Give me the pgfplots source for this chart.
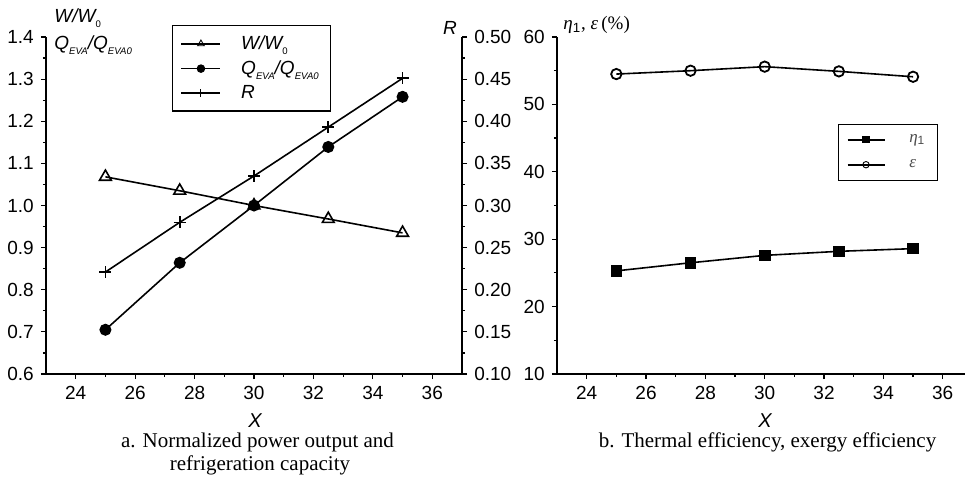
\documentclass[border=0pt]{standalone}
\usepackage{fontspec}
\setmainfont{Liberation Serif}
\setsansfont{Liberation Sans}
\usepackage{pgfplots}
\pgfplotsset{compat=1.18}
\newcommand{\sub}[1]{\raisebox{-0.5ex}{\fontsize{4.8}{5}\selectfont #1}}
\begin{document}
\begin{tikzpicture}
\path[use as bounding box] (0pt,0pt) rectangle (482.5pt,240pt);
\pgfplotsset{
  base/.style={
    scale only axis,
    axis line style={-, line width=0.6pt, black},
    tick style={line width=0.6pt, black},
    tick align=outside,
    major tick length=2.6pt,
    minor tick length=1.6pt,
    /pgf/number format/assume math mode=true,
    ticklabel style={font=\sffamily\fontsize{9.5}{11}\selectfont},
  },
  ser/.style={black, line width=0.8pt},
}
% ---------------- left panel ----------------
\begin{axis}[base,
  at={(23pt,53pt)}, anchor=south west, width=208pt, height=168.5pt,
  xmin=23, xmax=37, ymin=0.6, ymax=1.4,
  axis x line*=bottom, axis y line*=left,
  xtick pos=bottom, ytick pos=left,
  xtick={24,26,28,30,32,34,36}, minor x tick num=1,
  ytick={0.6,0.7,0.8,0.9,1.0,1.1,1.2,1.3,1.4}, minor y tick num=1,
  yticklabel style={/pgf/number format/.cd, fixed, fixed zerofill, precision=1},
  legend style={at={(0.303,1.036)}, anchor=north west, draw=black, line width=0.6pt,
    font=\sffamily\itshape\fontsize{9.5}{10}\selectfont,
    inner xsep=4pt, inner ysep=3pt, row sep=0pt,
    nodes={inner ysep=2pt},
    cells={anchor=west},
    /tikz/every odd column/.append style={column sep=8pt}},
  legend image code/.code={\draw[mark repeat=2,mark phase=2,#1,mark size=1.9pt,line width=0.8pt,every mark/.append style={line width=0.45pt}] plot coordinates {(0pt,0pt) (9.75pt,0pt) (19.5pt,0pt)};},
]
\addplot[ser, mark=triangle, mark size=3.4pt, mark options={solid, fill=white, line width=0.8pt}]
  coordinates {(25,1.068)(27.5,1.035)(30,1.0)(32.5,0.968)(35,0.935)};
\addlegendentry{W/W\sub{\upshape 0}}
\addplot[ser, mark=*, mark size=2.6pt, mark options={solid}]
  coordinates {(25,0.705)(27.5,0.864)(30,1.0)(32.5,1.139)(35,1.258)};
\addlegendentry{Q\sub{EVA}/Q\sub{EVA0}}
\addlegendimage{ser, mark=+, mark size=2.4pt}
\addlegendentry{R}
\end{axis}
\begin{axis}[base,
  at={(23pt,53pt)}, anchor=south west, width=208pt, height=168.5pt,
  xmin=23, xmax=37, ymin=0.1, ymax=0.5,
  axis x line=none, axis y line*=right,
  xtick=\empty, ytick pos=right, yticklabel pos=right,
  ytick={0.1,0.15,0.2,0.25,0.3,0.35,0.4,0.45,0.5}, minor y tick num=1,
  yticklabel style={/pgf/number format/.cd, fixed, fixed zerofill, precision=2},
]
\addplot[ser, mark=+, mark size=3pt, mark options={solid, line width=0.8pt}]
  coordinates {(25,0.221)(27.5,0.280)(30,0.335)(32.5,0.393)(35,0.451)};
\end{axis}
% ---------------- right panel ----------------
\begin{axis}[base,
  at={(278.5pt,53pt)}, anchor=south west, width=204pt, height=168.5pt,
  xmin=23, xmax=36.75, ymin=10, ymax=60,
  axis x line*=bottom, axis y line*=left,
  xtick pos=bottom, ytick pos=left,
  xtick={24,26,28,30,32,34,36}, minor x tick num=1,
  ytick={10,20,30,40,50,60}, minor y tick num=1,
  legend style={at={(0.689,0.743)}, anchor=north west, draw=black, line width=0.6pt,
    font=\itshape\fontsize{8.5}{9}\selectfont, text=black!70,
    inner xsep=4pt, inner ysep=3pt, row sep=3pt,
    nodes={inner ysep=2pt},
    cells={anchor=west},
    /tikz/every odd column/.append style={column sep=10pt}},
  legend image code/.code={\draw[mark repeat=2,mark phase=2,#1,mark size=1.6pt,line width=0.8pt,every mark/.append style={line width=0.45pt}] plot coordinates {(0pt,0pt) (9.25pt,0pt) (18.5pt,0pt)};},
]
\addplot[ser, mark=square*, mark size=2.5pt, mark options={solid}]
  coordinates {(25,25.3)(27.5,26.5)(30,27.6)(32.5,28.2)(35,28.6)};
\addlegendentry{η\textsubscript{\upshape\sffamily 1}}
\addplot[ser, mark=o, mark size=2.6pt, mark options={solid, fill=white, line width=0.9pt}]
  coordinates {(25,54.5)(27.5,55.0)(30,55.6)(32.5,54.9)(35,54.1)};
\addlegendentry{ε}
\end{axis}
% ---------------- labels ----------------
\node[anchor=west, inner sep=0pt, font=\sffamily\itshape\fontsize{9.5}{11}\selectfont] at (27pt,231pt) {W/W\sub{\upshape 0}};
\node[anchor=west, inner sep=0pt, font=\sffamily\itshape\fontsize{9.5}{11}\selectfont] at (27pt,217.5pt) {Q\sub{EVA}/Q\sub{EVA0}};
\node[inner sep=0pt, font=\sffamily\itshape\fontsize{9.5}{11}\selectfont] at (225pt,226pt) {R};
\node[anchor=west, inner sep=0pt, font=\fontsize{9.5}{11}\selectfont] at (281.5pt,227.5pt) {{\itshape η}\textsubscript{\sffamily 1}, {\itshape ε}\,(\%)};
\node[inner sep=0pt, font=\sffamily\itshape\fontsize{10}{12}\selectfont] at (127.5pt,29.5pt) {X};
\node[inner sep=0pt, font=\sffamily\itshape\fontsize{10}{12}\selectfont] at (382.5pt,29.5pt) {X};
\node[inner sep=0pt, font=\fontsize{10.5}{12}\selectfont] at (128.75pt,19pt) {a. Normalized power output and};
\node[inner sep=0pt, font=\fontsize{10.5}{12}\selectfont] at (130pt,7.5pt) {refrigeration capacity};
\node[inner sep=0pt, font=\fontsize{10.5}{12}\selectfont] at (383.75pt,19pt) {b. Thermal efficiency, exergy efficiency};
\end{tikzpicture}
\end{document}
